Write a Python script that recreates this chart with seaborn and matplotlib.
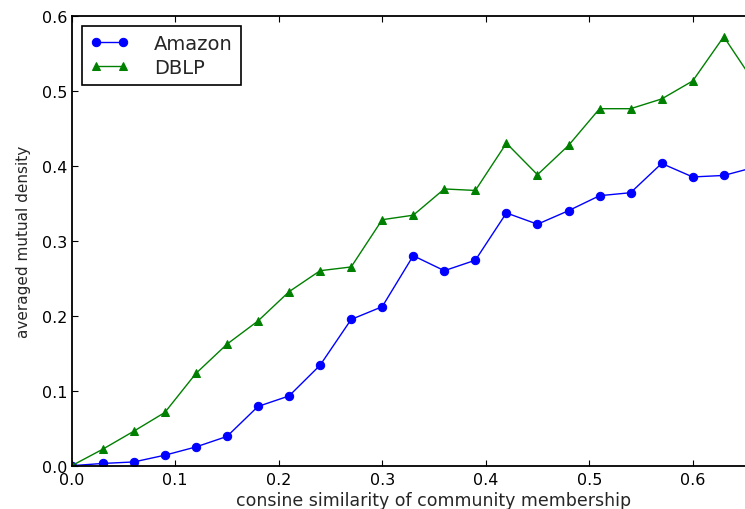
import matplotlib
matplotlib.use("Agg")
import matplotlib.pyplot as plt
import seaborn as sns
import pandas as pd

# cosine similarity bins
similarity = [0.00, 0.03, 0.06, 0.09, 0.12, 0.15, 0.18, 0.21, 0.24, 0.27, 0.30,
              0.33, 0.36, 0.39, 0.42, 0.45, 0.48, 0.51, 0.54, 0.57, 0.60, 0.63, 0.66]

amazon = [0.000, 0.003, 0.005, 0.014, 0.025, 0.039, 0.079, 0.093, 0.134, 0.195, 0.212,
          0.280, 0.260, 0.274, 0.337, 0.322, 0.340, 0.360, 0.364, 0.403, 0.385, 0.387, 0.398]

dblp = [0.000, 0.022, 0.046, 0.071, 0.123, 0.162, 0.193, 0.232, 0.260, 0.265, 0.328,
        0.334, 0.369, 0.367, 0.430, 0.388, 0.427, 0.476, 0.476, 0.489, 0.513, 0.572, 0.510]

x_ticks = [0.0, 0.1, 0.2, 0.3, 0.4, 0.5, 0.6]
y_ticks = [0.0, 0.1, 0.2, 0.3, 0.4, 0.5, 0.6]

df = pd.DataFrame({"sim": similarity, "Amazon": amazon, "DBLP": dblp})

sns.set_style("ticks", {
    "xtick.direction": "in",
    "ytick.direction": "in",
    "axes.edgecolor": "black",
})
plt.rcParams["font.family"] = ["DejaVu Sans"]
plt.rcParams["xtick.top"] = True
plt.rcParams["ytick.right"] = True

fig = plt.figure(figsize=(7.45, 5.10), dpi=100)
ax = fig.add_axes([71.7 / 745, 43.3 / 510, 724.5 / 745, 450 / 510])

sns.lineplot(data=df, x="sim", y="Amazon", ax=ax, color=(0, 0, 1), marker="o",
             markersize=6, markeredgecolor=(0, 0, 1), linewidth=1.0, label="Amazon")
sns.lineplot(data=df, x="sim", y="DBLP", ax=ax, color=(0, 0.5, 0), marker="^",
             markersize=6, markeredgecolor=(0, 0.5, 0), linewidth=1.0, label="DBLP")

ax.set_xlim(0.0, 0.7)
ax.set_ylim(0.0, 0.6)
ax.set_xticks(x_ticks)
ax.set_yticks(y_ticks)
ax.set_xticklabels([f"{t:.1f}" for t in x_ticks])
ax.set_yticklabels([f"{t:.1f}" for t in y_ticks])
ax.tick_params(axis="both", which="major", length=4, width=0.8, labelsize=11.5,
               colors="black")
ax.tick_params(axis="x", pad=4.5)
ax.tick_params(axis="y", pad=3)
for s in ax.spines.values():
    s.set_linewidth(1.3)

ax.set_xlabel("consine similarity of community membership", fontsize=12.5, labelpad=3)
ax.set_ylabel("averaged mutual density", fontsize=11, labelpad=8)

leg = ax.legend(loc="upper left", numpoints=2, fontsize=14, fancybox=False,
                framealpha=1, edgecolor="black", borderaxespad=0.55,
                handlelength=2.0, handletextpad=1.3, borderpad=0.4,
                labelspacing=0.25)
leg.get_frame().set_linewidth(1.2)

fig.savefig("out.png", dpi=100)
